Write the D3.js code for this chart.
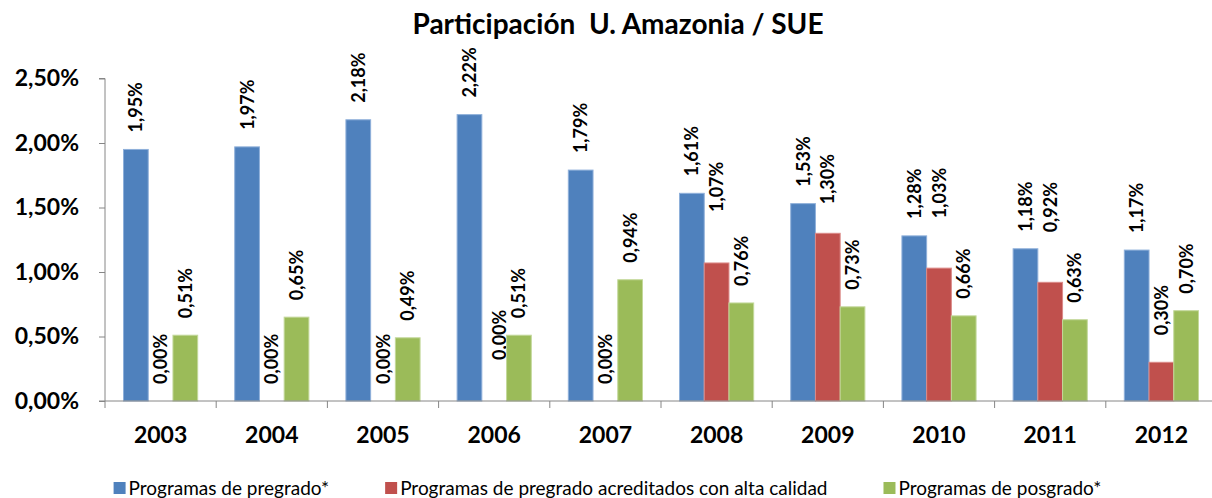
<!DOCTYPE html>
<html><head><meta charset="utf-8">
<script src="https://cdn.jsdelivr.net/npm/d3@7"></script>
<style>
html,body{margin:0;padding:0;background:#fff;}
svg text{font-family:Lato,"Open Sans",sans-serif;}
</style></head>
<body><svg id="chart" width="1212" height="498"></svg>
<script>
// ---- data ----
const years = ["2003","2004","2005","2006","2007","2008","2009","2010","2011","2012"];
const pregrado   = [1.95,1.97,2.18,2.22,1.79,1.61,1.53,1.28,1.18,1.17];
const acreditados = [0.00,0.00,0.00,0.00,0.00,1.07,1.30,1.03,0.92,0.30];
const posgrado   = [0.51,0.65,0.49,0.51,0.94,0.76,0.73,0.66,0.63,0.70];
const seriesNames = ["Programas de pregrado*","Programas de pregrado acreditados con alta calidad","Programas de posgrado*"];
const yTicks = [0,0.5,1,1.5,2,2.5];
const title = "Participación  U. Amazonia / SUE";

// ---- layout / style ----
const colors = ["#4F81BD","#C0504D","#9BBB59"];
const strokes = ["#8FB0DA","#DB8A88","#C3D89A"];
// manual label nudges in the original (extra lift in px), series 1 only
const redLift = [0,0,0,24,0,34,12,33,33,10];

const svg = d3.select("#chart");
const M = {left:105, right:1217, top:78.5, bottom:401};

const x = d3.scaleBand().domain(years).range([M.left, M.right]).paddingInner(0).paddingOuter(0);
const bw = x.bandwidth();
const xs = d3.scaleBand().domain([0,1,2]).range([bw*0.1665, bw*0.8335]).padding(0);
const y = d3.scaleLinear().domain([0,2.5]).range([M.bottom, M.top]);

const fmt = v => d3.format(".2f")(v).replace(".", ",") + "%";

// title
svg.append("text").attr("x",618).attr("y",34).attr("text-anchor","middle")
  .style("white-space","pre").attr("xml:space","preserve")
  .attr("font-weight","bold").attr("font-size",28).attr("fill","#000").text(title);

// bars
const series = [pregrado, acreditados, posgrado];
series.forEach((vals, si) => {
  const g = svg.append("g");
  g.selectAll("rect").data(vals).join("rect")
    .attr("x",(d,i)=>x(years[i])+xs(si))
    .attr("width",xs.bandwidth())
    .attr("y",d=>y(d))
    .attr("height",d=>y(0)-y(d))
    .attr("fill",colors[si])
    .attr("stroke",strokes[si]).attr("stroke-width",1);
  g.selectAll("text").data(vals).join("text")
    .attr("transform",(d,i)=>{
      const cx = x(years[i])+xs(si)+xs.bandwidth()/2 + 6.5 + (si===1 && redLift[i]===24 ? 5 : 0);
      const cy = y(d) - 17 - (si===1 ? redLift[i] : 0);
      return `translate(${cx},${cy}) rotate(-90)`;
    })
    .attr("font-size",18).attr("font-weight","bold").attr("fill","#000")
    .attr("text-anchor","start")
    .text(d=>fmt(d));
});

// y axis
const yAxis = d3.axisLeft(y).tickValues(yTicks).tickSize(6).tickPadding(20)
  .tickFormat(d=>fmt(d));
const ya = svg.append("g").attr("transform",`translate(${M.left},0)`).call(yAxis);
ya.select(".domain").attr("stroke","#868686").attr("d",`M-6,${M.top}H0V${M.bottom}H-6`);
ya.selectAll(".tick line").attr("stroke","#868686");
ya.selectAll(".tick text").attr("font-size",23).attr("font-weight","bold").attr("fill","#000")
  .attr("font-family","Lato,'Open Sans',sans-serif");

// x axis
const xa = svg.append("g").attr("transform",`translate(0,${M.bottom})`);
xa.append("line").attr("x1",M.left).attr("x2",M.right).attr("y1",0).attr("y2",0).attr("stroke","#868686");
const bounds = years.map(d=>x(d)).concat([M.right]);
xa.selectAll("line.tk").data(bounds).join("line").attr("class","tk")
  .attr("x1",d=>d).attr("x2",d=>d).attr("y1",0).attr("y2",7).attr("stroke","#868686");
xa.selectAll("text").data(years).join("text")
  .attr("x",d=>x(d)+bw/2).attr("y",42).attr("text-anchor","middle")
  .attr("font-size",23).attr("font-weight","bold").attr("fill","#000").text(d=>d);

// legend
const lg = svg.append("g");
const items = lg.selectAll("g").data(seriesNames).join("g");
items.append("rect").attr("width",12).attr("height",12).attr("y",-13)
  .attr("fill",(d,i)=>colors[i]);
items.append("text").attr("x",15).attr("y",0).attr("font-size",19).attr("fill","#000").text(d=>d);
let cur = 0; const gap = 56; const widths = [];
items.each(function(){ widths.push(15 + d3.select(this).select("text").node().getComputedTextLength()); });
const total = d3.sum(widths) + gap*(widths.length-1);
cur = 607.5 - total/2;
items.attr("transform",(d,i)=>{ const tx = cur; cur += widths[i] + gap; return `translate(${tx},495)`; });
</script></body></html>
